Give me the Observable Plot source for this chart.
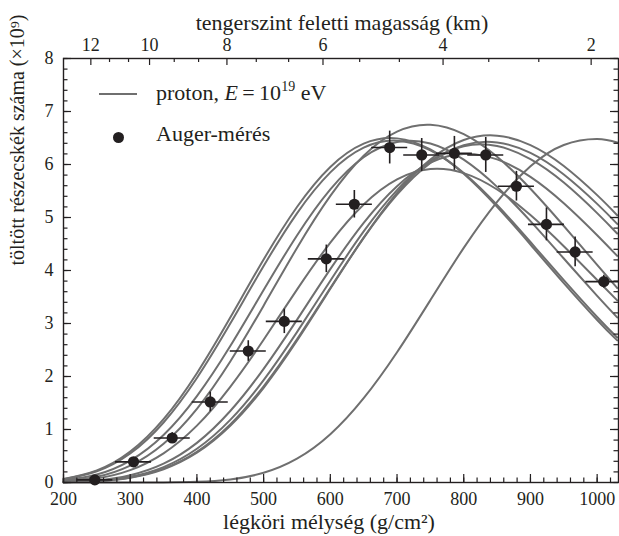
<!DOCTYPE html>
<html><head><meta charset="utf-8">
<script src="https://cdn.jsdelivr.net/npm/d3@7"></script>
<script src="https://cdn.jsdelivr.net/npm/@observablehq/plot@0.6"></script>
<style>
body{margin:0;background:#fff;}
#wrap{position:relative;width:619px;height:536px;font-family:"Liberation Serif",serif;color:#231f20;}
.leg{position:absolute;font-size:22px;line-height:1;white-space:nowrap;}
</style></head><body><div id="wrap"></div>
<script>
// ---- data ----
const depthGrid = [200,250,300,350,400,450,500,550,600,650,700,750,800,850,900,950,1000,1030];
const shower1 = [0.065,0.227,0.582,1.194,2.062,3.111,4.207,5.198,5.954,6.394,6.493,6.283,5.827,5.202,4.491,3.763,3.067,2.681];
const shower2 = [0.060,0.211,0.547,1.132,1.972,2.999,4.084,5.079,5.851,6.317,6.449,6.269,5.839,5.236,4.538,3.817,3.122,2.735];
const shower3 = [0.040,0.150,0.412,0.895,1.629,2.574,3.631,4.661,5.531,6.137,6.425,6.396,6.091,5.578,4.932,4.226,3.520,3.115];
const shower4 = [0.027,0.110,0.320,0.732,1.391,2.284,3.337,4.425,5.407,6.165,6.620,6.749,6.572,6.146,5.543,4.840,4.105,3.670];
const shower5 = [0.019,0.078,0.234,0.551,1.073,1.805,2.693,3.640,4.526,5.246,5.720,5.915,5.838,5.528,5.046,4.457,3.820,3.437];
const shower6 = [0.009,0.041,0.138,0.355,0.748,1.349,2.144,3.069,4.025,4.899,5.591,6.034,6.199,6.096,5.767,5.269,4.666,4.277];
const shower7 = [0.006,0.031,0.109,0.291,0.636,1.181,1.931,2.837,3.808,4.737,5.517,6.068,6.346,6.348,6.101,5.659,5.083,4.698];
const shower8 = [0.005,0.027,0.096,0.261,0.580,1.096,1.816,2.702,3.670,4.616,5.431,6.030,6.364,6.417,6.218,5.811,5.257,4.879];
const shower9 = [0.005,0.025,0.091,0.251,0.562,1.070,1.786,2.674,3.654,4.620,5.465,6.096,6.462,6.544,6.366,5.972,5.422,5.043];
const shower10 = [0,0,0,0.002,0.013,0.058,0.183,0.449,0.910,1.590,2.457,3.441,4.427,5.297,5.965,6.367,6.480,6.414];

const augerDepth    = [247,305,363,420,477,531,594,636,689,737,786,833,879,924,967,1010];
const augerSize     = [0.05,0.39,0.84,1.52,2.48,3.04,4.22,5.25,6.32,6.18,6.21,6.18,5.59,4.87,4.35,3.79];
const augerDepthErr = [27,27,27,27,27,27,27,27,27,27,27,27,27,27,27,27];
const augerSizeErr  = [0.05,0.08,0.1,0.185,0.195,0.23,0.26,0.26,0.31,0.31,0.32,0.33,0.28,0.31,0.28,0.12];

const xTickValues = [200,300,400,500,600,700,800,900,1000];
const yTickValues = [0,1,2,3,4,5,6,7,8];
const altitudeLabels = [12,10,8,6,4,2];
const altitudeMajorDepth = [241,329,445,589,769,991];
const altitudeMinorDepth = [269,297.5,366,402.5,489,537.5,644,703.5,837.5,912.5];

const xMinorTicks = d3.range(200, 1032, 20);
const yMinorTicks = d3.range(0, 8.001, 0.2);

// ---- build tables ----
const showers = [shower1,shower2,shower3,shower4,shower5,shower6,shower7,shower8,shower9,shower10];
const curveRows = showers.flatMap((s, i) => s.map((v, j) => ({id: i, x: depthGrid[j], y: v})));
const auger = augerDepth.map((x, i) => ({x, y: augerSize[i], xe: augerDepthErr[i], ye: augerSizeErr[i]}));

const ink = "#231f20";
const innerW = 619 - 63 - 1, innerH = 536 - 58 - 54;

const chart = Plot.plot({
  width: 619, height: 536,
  marginLeft: 63, marginRight: 1, marginTop: 58, marginBottom: 54,
  x: {domain: [200, 1032], axis: null},
  y: {domain: [0, 8], axis: null},
  style: {fontFamily: "'Liberation Serif', serif", fontSize: "17px", color: ink, background: "white"},
  marks: [
    Plot.line(curveRows, {x: "x", y: "y", z: "id", stroke: "#6f6f6f", strokeWidth: 2, curve: "natural"}),
    Plot.ruleY(auger, {y: "y", x1: d => d.x - d.xe, x2: d => d.x + d.xe, stroke: ink, strokeWidth: 1.6}),
    Plot.ruleX(auger, {x: "x", y1: d => d.y - d.ye, y2: d => d.y + d.ye, stroke: ink, strokeWidth: 1.6}),
    Plot.dot(auger, {x: "x", y: "y", r: 5.6, fill: ink, stroke: "none"}),
    // ticks bottom
    Plot.tickX(xTickValues, {x: d => d, insetTop: innerH - 8, stroke: ink, strokeWidth: 1.2}),
    Plot.tickX(xMinorTicks, {x: d => d, insetTop: innerH - 4.5, stroke: ink, strokeWidth: 1.2}),
    // ticks top (altitude)
    Plot.tickX(altitudeMajorDepth, {x: d => d, insetBottom: innerH - 7, stroke: ink, strokeWidth: 1.2}),
    Plot.tickX(altitudeMinorDepth, {x: d => d, insetBottom: innerH - 4, stroke: ink, strokeWidth: 1.2}),
    // ticks left/right
    Plot.tickY(yTickValues, {y: d => d, insetRight: innerW - 8, stroke: ink, strokeWidth: 1.2}),
    Plot.tickY(yMinorTicks, {y: d => d, insetRight: innerW - 4.5, stroke: ink, strokeWidth: 1.2}),
    Plot.tickY(yTickValues, {y: d => d, insetLeft: innerW - 8, stroke: ink, strokeWidth: 1.2}),
    Plot.tickY(yMinorTicks, {y: d => d, insetLeft: innerW - 4.5, stroke: ink, strokeWidth: 1.2}),
    Plot.frame({stroke: ink, strokeWidth: 1.4}),
    // tick labels
    Plot.text(xTickValues, {x: d => d, text: d => String(d), frameAnchor: "bottom", lineAnchor: "bottom", dy: 22, fontSize: 18, fill: ink}),
    Plot.text(yTickValues, {y: d => d, text: d => String(d), frameAnchor: "left", textAnchor: "end", dx: -10, fontSize: 18, fill: ink}),
    Plot.text(altitudeMajorDepth, {x: d => d, text: (d, i) => String(altitudeLabels[i]), frameAnchor: "top", lineAnchor: "bottom", dy: -8, fontSize: 18, fill: ink}),
    // axis titles
    Plot.text(["légköri mélység (g/cm²)"], {frameAnchor: "bottom", lineAnchor: "bottom", dy: 46, dx: -12, fontSize: 22, fill: ink}),
    Plot.text(["tengerszint feletti magasság (km)"], {frameAnchor: "top", lineAnchor: "bottom", dy: -29, dx: 1, fontSize: 22, fill: ink}),
    Plot.text(["töltött részecskék száma (×10⁹)"], {frameAnchor: "left", rotate: -90, dx: -46, dy: -5, fontSize: 20, fill: ink})
  ]
});

const wrap = document.getElementById("wrap");
wrap.appendChild(chart);

// legend overlay
wrap.insertAdjacentHTML("beforeend", `
<div style="position:absolute;left:99px;top:93px;width:38px;height:2px;background:#6f6f6f"></div>
<div class="leg" style="left:156px;top:81.5px">proton, <i>E</i>&#8201;=&#8201;10<span style="font-size:14px;position:relative;top:-9px">19</span> eV</div>
<div style="position:absolute;left:112.8px;top:131.8px;width:11px;height:11px;border-radius:50%;background:${ink}"></div>
<div class="leg" style="left:156px;top:123.3px">Auger-mérés</div>
`);
</script>
</body></html>
